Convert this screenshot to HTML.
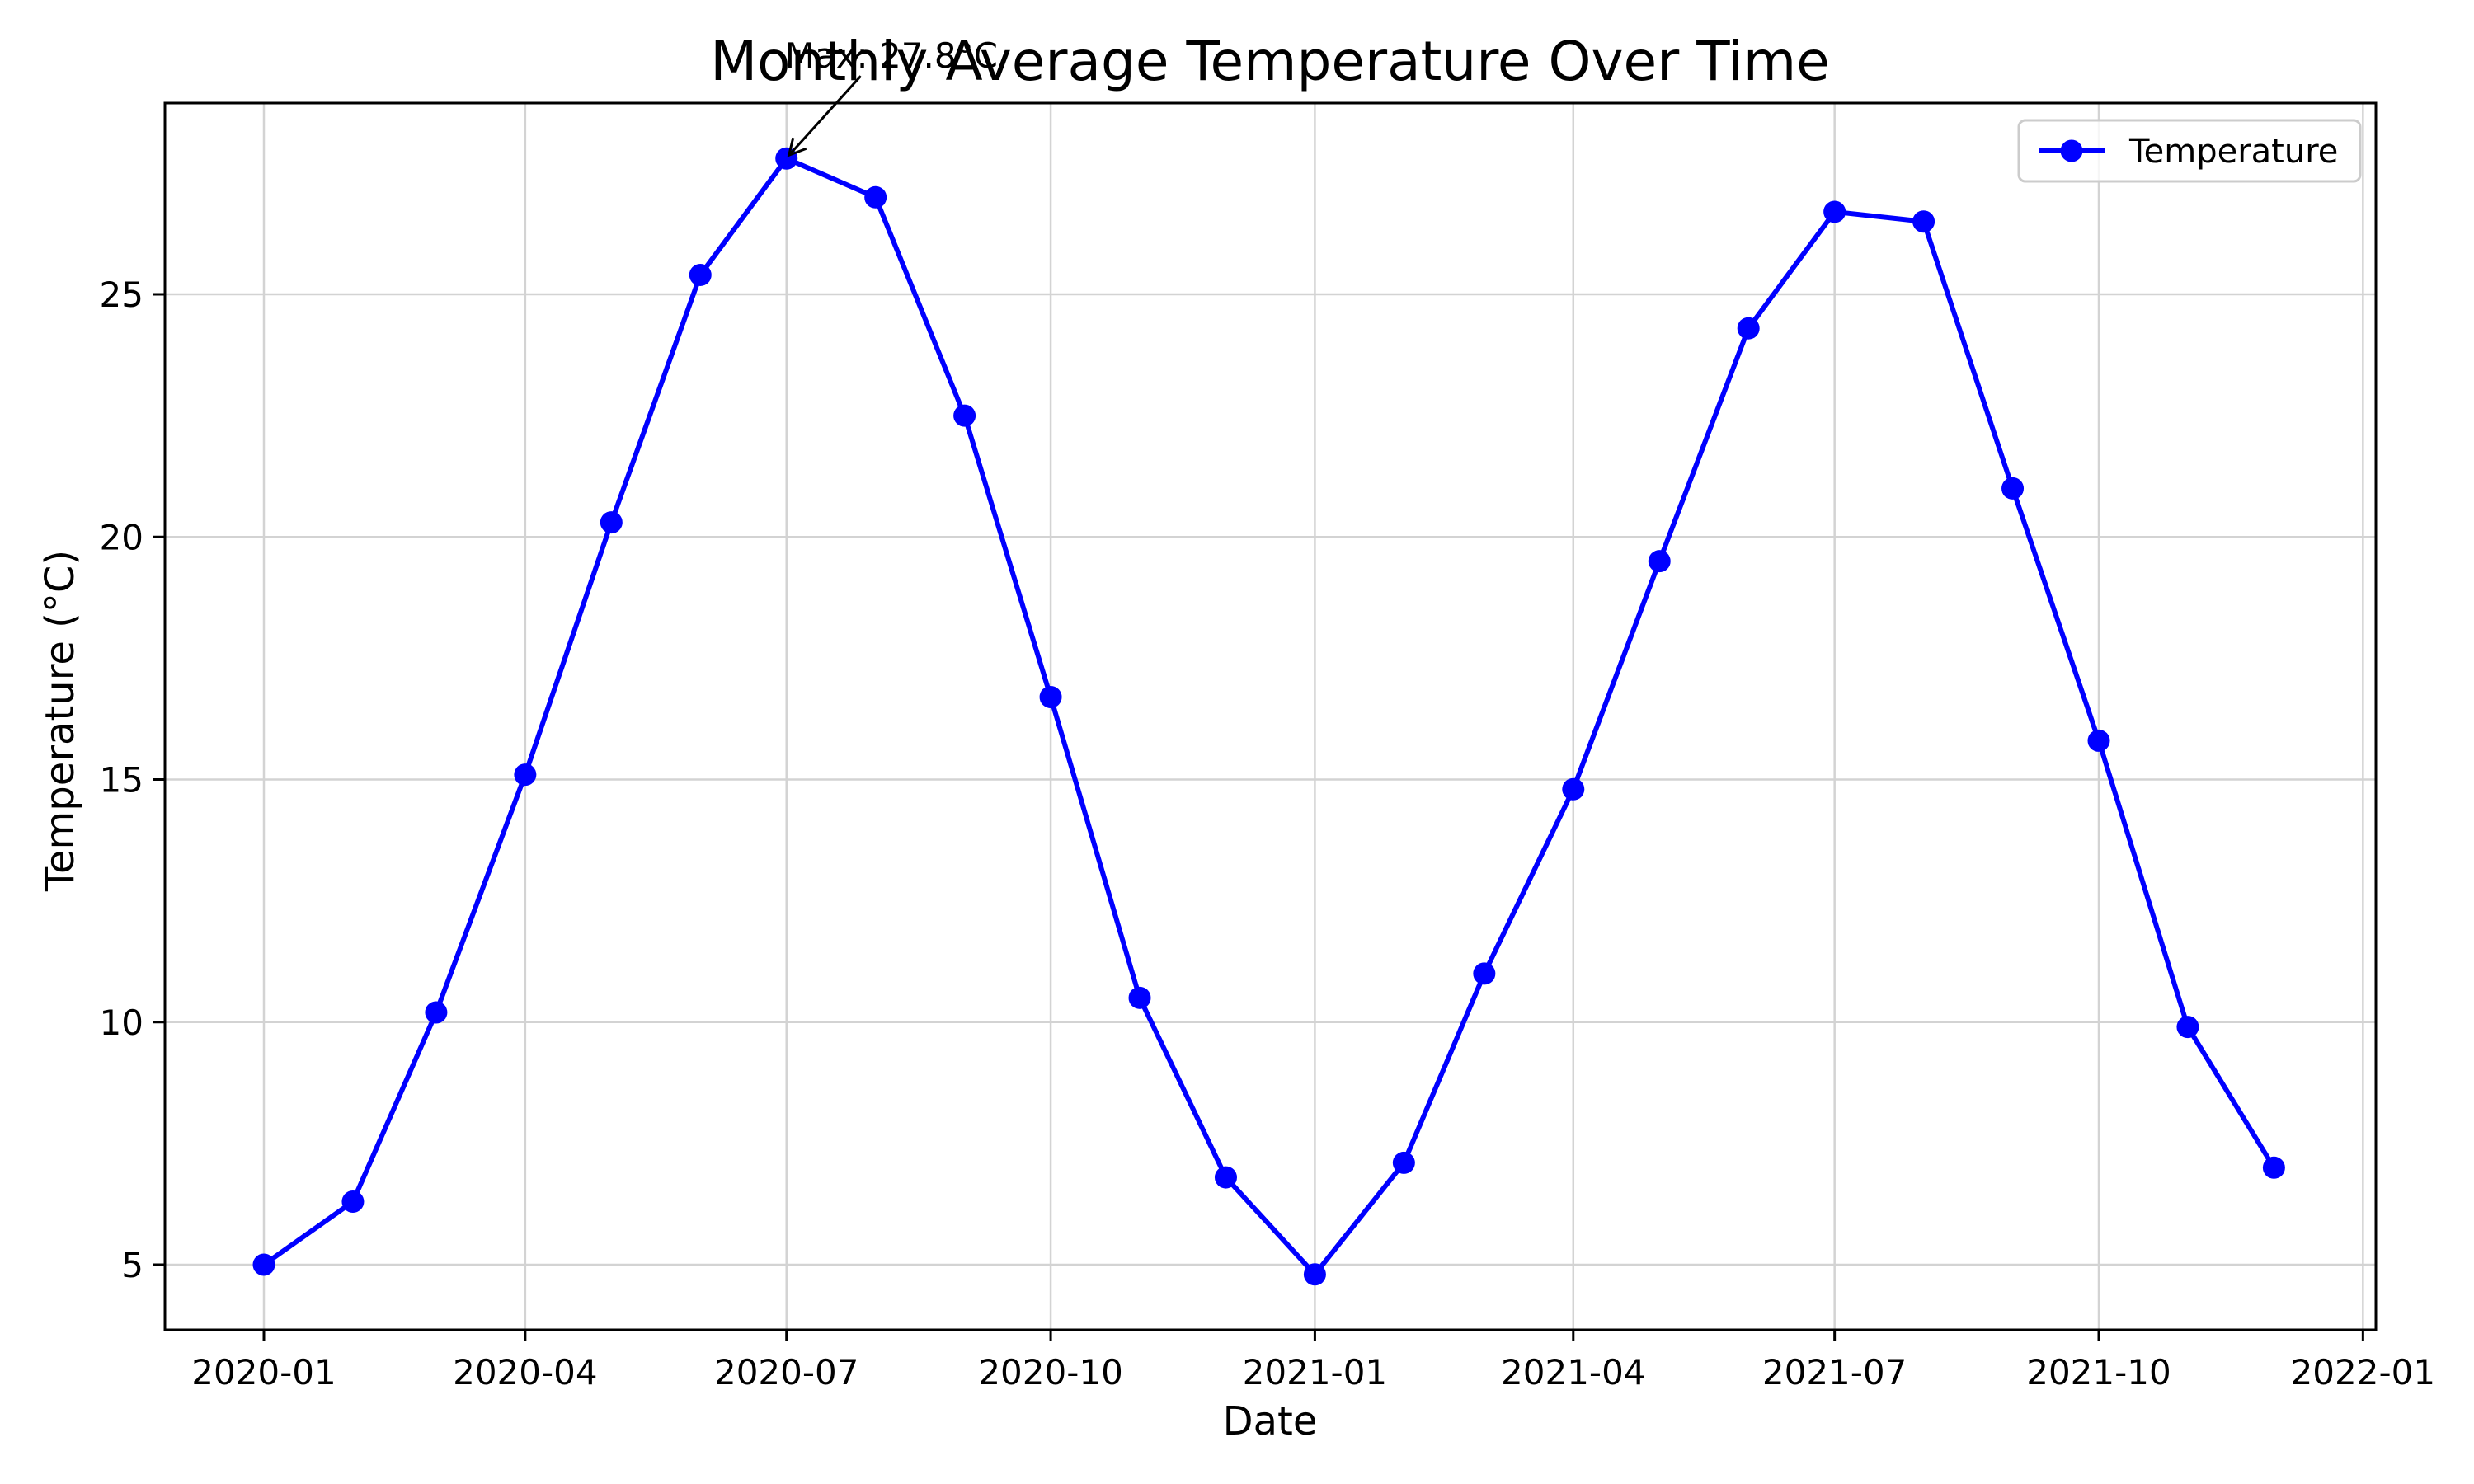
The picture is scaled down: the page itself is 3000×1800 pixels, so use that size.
<!DOCTYPE html>
<html><head><meta charset="utf-8"><style>
html,body{margin:0;padding:0;background:#fff}
svg{display:block;font-family:"DejaVu Sans","Liberation Sans",sans-serif}
</style></head><body>
<svg id="chart" width="3000" height="1800" viewBox="0 0 3000 1800" xmlns="http://www.w3.org/2000/svg">
<rect x="0" y="0" width="3000" height="1800" fill="#fff"/>
<g id="grid"></g>
<g id="series"></g>
<rect x="200" y="125" width="2681" height="1488" fill="none" stroke="#000" stroke-width="3"/>
<g id="xticks"></g>
<g id="yticks"></g>
<text x="1540" y="97" font-size="66" text-anchor="middle">Monthly Average Temperature Over Time</text>
<text x="1540" y="1740" font-size="48" text-anchor="middle">Date</text>
<text x="0" y="0" font-size="48" text-anchor="middle" transform="translate(89,874) rotate(-90)">Temperature (°C)</text>
<g id="annot"></g>
<g>
<rect x="2448" y="146" width="414" height="74" rx="8" fill="#fff" fill-opacity="0.8" stroke="#ccc" stroke-width="3"/>
<line x1="2472" y1="183" x2="2552" y2="183" stroke="#0000ff" stroke-width="6"/>
<circle cx="2512" cy="183" r="13.5" fill="#0000ff"/>
<text x="2582" y="197" font-size="40">Temperature</text>
</g>
</svg>
<script>
const months = ["2020-01","2020-02","2020-03","2020-04","2020-05","2020-06","2020-07","2020-08","2020-09","2020-10","2020-11","2020-12","2021-01","2021-02","2021-03","2021-04","2021-05","2021-06","2021-07","2021-08","2021-09","2021-10","2021-11","2021-12"];
const temps = [5.0,6.3,10.2,15.1,20.3,25.4,27.8,27.0,22.5,16.7,10.5,6.8,4.8,7.1,11.0,14.8,19.5,24.3,26.7,26.5,21.0,15.8,9.9,7.0];
const xTickLabels = ["2020-01","2020-04","2020-07","2020-10","2021-01","2021-04","2021-07","2021-10","2022-01"];
const yTickValues = [5,10,15,20,25];

const NS="http://www.w3.org/2000/svg";
const t0=Date.UTC(2020,0,1);
function days(s){const p=s.split("-");return (Date.UTC(+p[0],+p[1]-1,1)-t0)/86400000;}
function xS(s){return 320+days(s)*3.482;}
function yS(v){return 1534-(v-5)*58.85;}
function mk(tag,attrs,parent){const e=document.createElementNS(NS,tag);for(const k in attrs)e.setAttribute(k,attrs[k]);parent.appendChild(e);return e;}

const grid=document.getElementById("grid"),xt=document.getElementById("xticks"),yt=document.getElementById("yticks"),ser=document.getElementById("series"),an=document.getElementById("annot");
xTickLabels.forEach(l=>{
  const x=xS(l);
  const g=mk("line",{x1:x,y1:125,x2:x,y2:1613,stroke:"#d3d3d3","stroke-width":2.5},grid);
  
  
  const t=mk("line",{x1:x,y1:1613,x2:x,y2:1627,stroke:"#000","stroke-width":3},xt);
  
  
  const tx=mk("text",{x:x,y:1679,"font-size":42,"text-anchor":"middle"},xt);
  tx.textContent=l;
  
  
});
yTickValues.forEach(v=>{
  const y=yS(v);
  const g=mk("line",{x1:200,y1:y,x2:2881,y2:y,stroke:"#d3d3d3","stroke-width":2.5},grid);
  
  
  const t=mk("line",{x1:186,y1:y,x2:200,y2:y,stroke:"#000","stroke-width":3},yt);
  
  
  const tx=mk("text",{x:174,y:y+15,"font-size":42,"text-anchor":"end"},yt);
  tx.textContent=String(v);
  
  
});
const pts=months.map((m,i)=>xS(m)+","+yS(temps[i])).join(" ");
const pl=mk("polyline",{points:pts,fill:"none",stroke:"#0000ff","stroke-width":6,"stroke-linejoin":"round"},ser);


months.forEach((m,i)=>{
  const c=mk("circle",{cx:xS(m),cy:yS(temps[i]),r:13.5,fill:"#0000ff"},ser);
  
  
});
let mi=0;temps.forEach((v,i)=>{if(v>temps[mi])mi=i;});
const px=xS(months[mi]),py=yS(temps[mi]);
const ar=mk("line",{x1:px+90,y1:py-100,x2:px+4,y2:py-5,stroke:"#000","stroke-width":3},an);


const ah=mk("polyline",{points:(px+8)+","+(py-25)+" "+(px+3)+","+(py-4)+" "+(px+24)+","+(py-12),fill:"none",stroke:"#000","stroke-width":3},an);


const at=mk("text",{x:px-2,y:py-110,"font-size":42},an);
at.textContent="Max: "+temps[mi].toFixed(1)+"°C";


</script>
</body></html>
